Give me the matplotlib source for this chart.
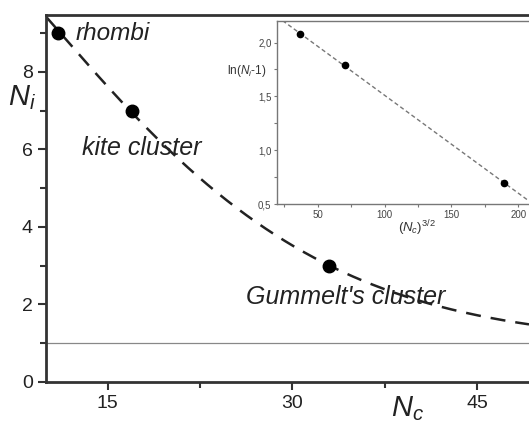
import numpy as np
import matplotlib.pyplot as plt
from matplotlib.ticker import MultipleLocator, FixedLocator

plt.rcParams['font.family'] = ['Liberation Sans', 'DejaVu Sans']
plt.rcParams['mathtext.fontset'] = 'custom'
plt.rcParams['mathtext.it'] = 'Liberation Sans:italic'
plt.rcParams['mathtext.rm'] = 'Liberation Sans'

# clusters: number of tiles N_c and N_i
names = ['rhombi', 'kite cluster', "Gummelt's cluster"]
Nc = np.array([11, 17, 33])
Ni = np.array([9, 7, 3])

xt = Nc ** 1.5
yt = np.log(Ni - 1)
slope, icpt = np.polyfit(xt, yt, 1)

W, H = 529, 429
fig = plt.figure(figsize=(W / 100, H / 100), dpi=100)

ax = fig.add_axes([46 / W, 1 - 382 / H, 1 - 46 / W, (382 - 15) / H])
ax.set_xlim(10, 49.2)
ax.set_ylim(0, 9.47)
ax.spines['right'].set_visible(False)
for s in ['left', 'bottom', 'top']:
    ax.spines[s].set_linewidth(2)
    ax.spines[s].set_color('#333333')

xs = np.linspace(10, 49.2, 300)
ax.plot(xs, 1 + np.exp(icpt + slope * xs ** 1.5), color='#222222', lw=1.8,
        dashes=(6, 4))
ax.axhline(1, color='#888888', lw=0.9)
ax.plot(Nc, Ni, 'o', color='black', ms=9)

ax.xaxis.set_major_locator(FixedLocator([15, 30, 45]))
ax.xaxis.set_minor_locator(FixedLocator([22.5, 37.5]))
ax.yaxis.set_major_locator(MultipleLocator(2))
ax.yaxis.set_minor_locator(MultipleLocator(1))
ax.tick_params(which='major', direction='out', length=6, width=1.5,
               labelsize=14, colors='#333333', labelcolor='#222222')
ax.tick_params(which='minor', direction='out', length=4, width=1.5,
               colors='#333333')

fig.text(22 / W, 1 - 98 / H, r'$N_i$', fontsize=21, ha='center',
         va='center', color='#222222')
fig.text(407 / W, 1 - 409 / H, r'$N_c$', fontsize=21, ha='center',
         va='center', color='#222222')
fig.text(20 / W, 1 - 442 / H, 'a', fontsize=16, fontweight='bold',
         ha='center', va='center', color='#222222')

ax.text(12.4, 9.0, names[0], fontsize=17.5, style='italic', va='center',
        color='#222222')
ax.text(12.9, 6.05, names[1], fontsize=18, style='italic', va='center',
        color='#222222')
ax.text(26.2, 2.2, names[2], fontsize=18, style='italic', va='center',
        color='#222222')

# inset
ins = fig.add_axes([277 / W, 1 - 204 / H, 1 - 277 / W, (204 - 21) / H])
ins.set_xlim(19.5, 208)
ins.set_ylim(0.5, 2.2)
ins.spines['right'].set_visible(False)
for s in ['left', 'bottom', 'top']:
    ins.spines[s].set_linewidth(1)
    ins.spines[s].set_color('#777777')
xi = np.linspace(19.5, 208, 100)
ins.plot(xi, icpt + slope * xi, color='#777777', lw=1, dashes=(3, 2))
ins.plot(xt, yt, 'o', color='black', ms=4.5)
ins.xaxis.set_major_locator(MultipleLocator(50))
ins.xaxis.set_minor_locator(MultipleLocator(25))
ins.yaxis.set_minor_locator(MultipleLocator(0.25))
ins.set_yticks([0.5, 1.0, 1.5, 2.0])
ins.set_yticklabels(['0,5', '1,0', '1,5', '2,0'])
ins.tick_params(which='both', direction='out', length=2.5, width=0.8,
                labelsize=7, colors='#777777', labelcolor='#444444', pad=1.5)
fig.text(247 / W, 1 - 71 / H, r'ln($N_i$-1)', fontsize=8.5, ha='center',
         va='center', color='#333333')
fig.text(417 / W, 1 - 228 / H, r'$(N_c)^{3/2}$', fontsize=9.5, ha='center',
         va='center', color='#333333')

fig.savefig('out.png', dpi=100)
